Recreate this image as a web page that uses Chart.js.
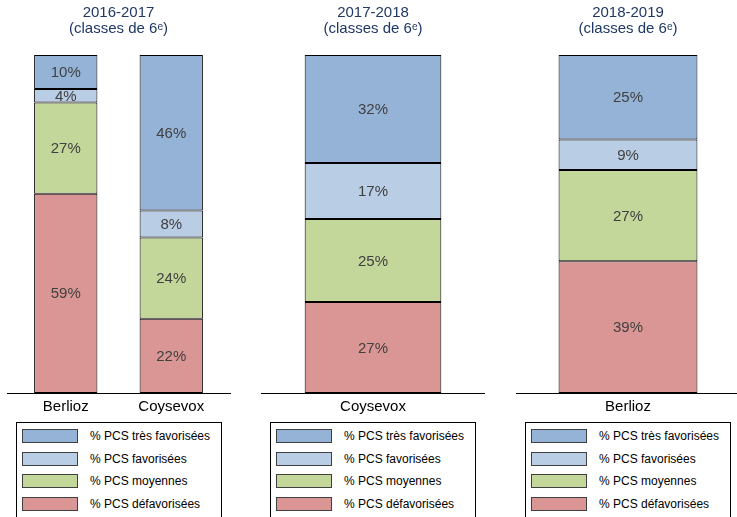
<!DOCTYPE html>
<html>
<head>
<meta charset="utf-8">
<script src="https://cdn.jsdelivr.net/npm/chart.js@4/dist/chart.umd.min.js"></script>
<style>
  body { margin: 0; background: #fff; font-family: "Liberation Sans", Arial, sans-serif; }
  #wrap { position: relative; width: 737px; height: 517px; overflow: hidden; }
  .panel { position: absolute; top: 0; width: 224px; height: 421px; }
  .legend { position: absolute; top: 422px; width: 206px; height: 110px; border: 1px solid #000; box-sizing: border-box; }
  .row { position: absolute; left: 5px; height: 14px; font-size: 12px; color: #000; white-space: nowrap; }
  .sw { position: absolute; left: 0; top: 0; width: 56px; height: 14px; border: 1px solid #404040; box-sizing: border-box; }
  .lbl { position: absolute; left: 68px; top: 0; line-height: 14px; }
</style>
</head>
<body>
<div id="wrap">
  <div class="panel" style="left:7px"><canvas id="c1"></canvas></div>
  <div class="panel" style="left:261px"><canvas id="c2"></canvas></div>
  <div class="panel" style="left:516px"><canvas id="c3"></canvas></div>
  <div class="legend" id="lg1" style="left:16px"></div>
  <div class="legend" id="lg2" style="left:270px"></div>
  <div class="legend" id="lg3" style="left:525px"></div>
</div>
<script>
// ── Data ────────────────────────────────────────────────────

const seriesNames = ['% PCS défavorisées', '% PCS moyennes', '% PCS favorisées', '% PCS très favorisées'];
const seriesColors = ['#da9694', '#c4d79b', '#b9cde5', '#95b3d7'];

// 2016-2017
const labels1 = ['Berlioz', 'Coysevox'];
const defav1 = [59, 22];
const moy1 = [27, 24];
const fav1 = [4, 8];
const tresFav1 = [10, 46];

// 2017-2018
const labels2 = ['Coysevox'];
const defav2 = [26.9];
const moy2 = [24.6];
const fav2 = [16.6];
const tresFav2 = [31.9];

// 2018-2019
const labels3 = ['Berlioz'];
const defav3 = [39];
const moy3 = [27];
const fav3 = [9];
const tresFav3 = [25];

const FONT = '"Liberation Sans", Arial, sans-serif';

// ── Value labels inside the bars ────────────────────────────

const barLabels = {
  id: 'barLabels',
  afterDatasetsDraw(chart) {
    const ctx = chart.ctx;
    ctx.save();
    ctx.font = '15px ' + FONT;
    ctx.fillStyle = '#404040';
    ctx.textAlign = 'center';
    ctx.textBaseline = 'middle';
    chart.data.datasets.forEach((ds, i) => {
      chart.getDatasetMeta(i).data.forEach((bar, j) => {
        ctx.fillText(Math.round(ds.data[j]) + '%', bar.x, (bar.y + bar.base) / 2 + 1);
      });
    });
    ctx.restore();
  }
};

// baseline runs across the whole panel, wider than the plot area
const baseLine = {
  id: 'baseLine',
  afterDraw(chart) {
    const ctx = chart.ctx;
    const y = Math.round(chart.chartArea.bottom) + 0.5;
    ctx.save();
    ctx.strokeStyle = '#000';
    ctx.lineWidth = 1;
    ctx.beginPath();
    ctx.moveTo(0, y);
    ctx.lineTo(chart.width, y);
    ctx.stroke();
    ctx.restore();
  }
};

function makeChart(id, title, labels, values, barPct, pad) {
  return new Chart(document.getElementById(id), {
    type: 'bar',
    data: {
      labels: labels,
      datasets: values.map((d, i) => ({
        label: seriesNames[i],
        data: d,
        backgroundColor: seriesColors[i],
        borderColor: '#000',
        borderWidth: 1,
        borderSkipped: false,
        barPercentage: barPct,
        categoryPercentage: 1
      }))
    },
    options: {
      responsive: true,
      maintainAspectRatio: false,
      animation: false,
      layout: { padding: { left: pad[0], right: pad[1] } },
      plugins: {
        legend: { display: false },
        tooltip: { enabled: false },
        title: {
          display: true,
          text: [title, '(classes de 6ᵉ)'],
          color: '#1f3864',
          font: { family: FONT, size: 15, weight: 'normal', lineHeight: 1.07 },
          padding: { top: 5, bottom: 18 }
        }
      },
      scales: {
        x: {
          stacked: true,
          grid: { display: false, drawTicks: false },
          border: { display: false },
          ticks: { color: '#000', padding: 5, font: { family: FONT, size: 15 } }
        },
        y: {
          stacked: true,
          display: false,
          min: 0,
          max: 100
        }
      }
    },
    plugins: [barLabels, baseLine]
  });
}

function makeLegend(id) {
  const el = document.getElementById(id);
  const order = [3, 2, 1, 0];
  el.innerHTML = order.map((k, n) => `
    <div class="row" style="top:${6 + Math.round(n * 22.5)}px">
      <div class="sw" style="background:${seriesColors[k]}"></div>
      <div class="lbl">${seriesNames[k]}</div>
    </div>`).join('');
}

makeChart('c1', '2016-2017', labels1, [defav1, moy1, fav1, tresFav1], 0.6, [6, 7]);
makeChart('c2', '2017-2018', labels2, [defav2, moy2, fav2, tresFav2], 0.61, [0, 0]);
makeChart('c3', '2018-2019', labels3, [defav3, moy3, fav3, tresFav3], 0.62, [0, 0]);
makeLegend('lg1');
makeLegend('lg2');
makeLegend('lg3');
</script>
</body>
</html>
